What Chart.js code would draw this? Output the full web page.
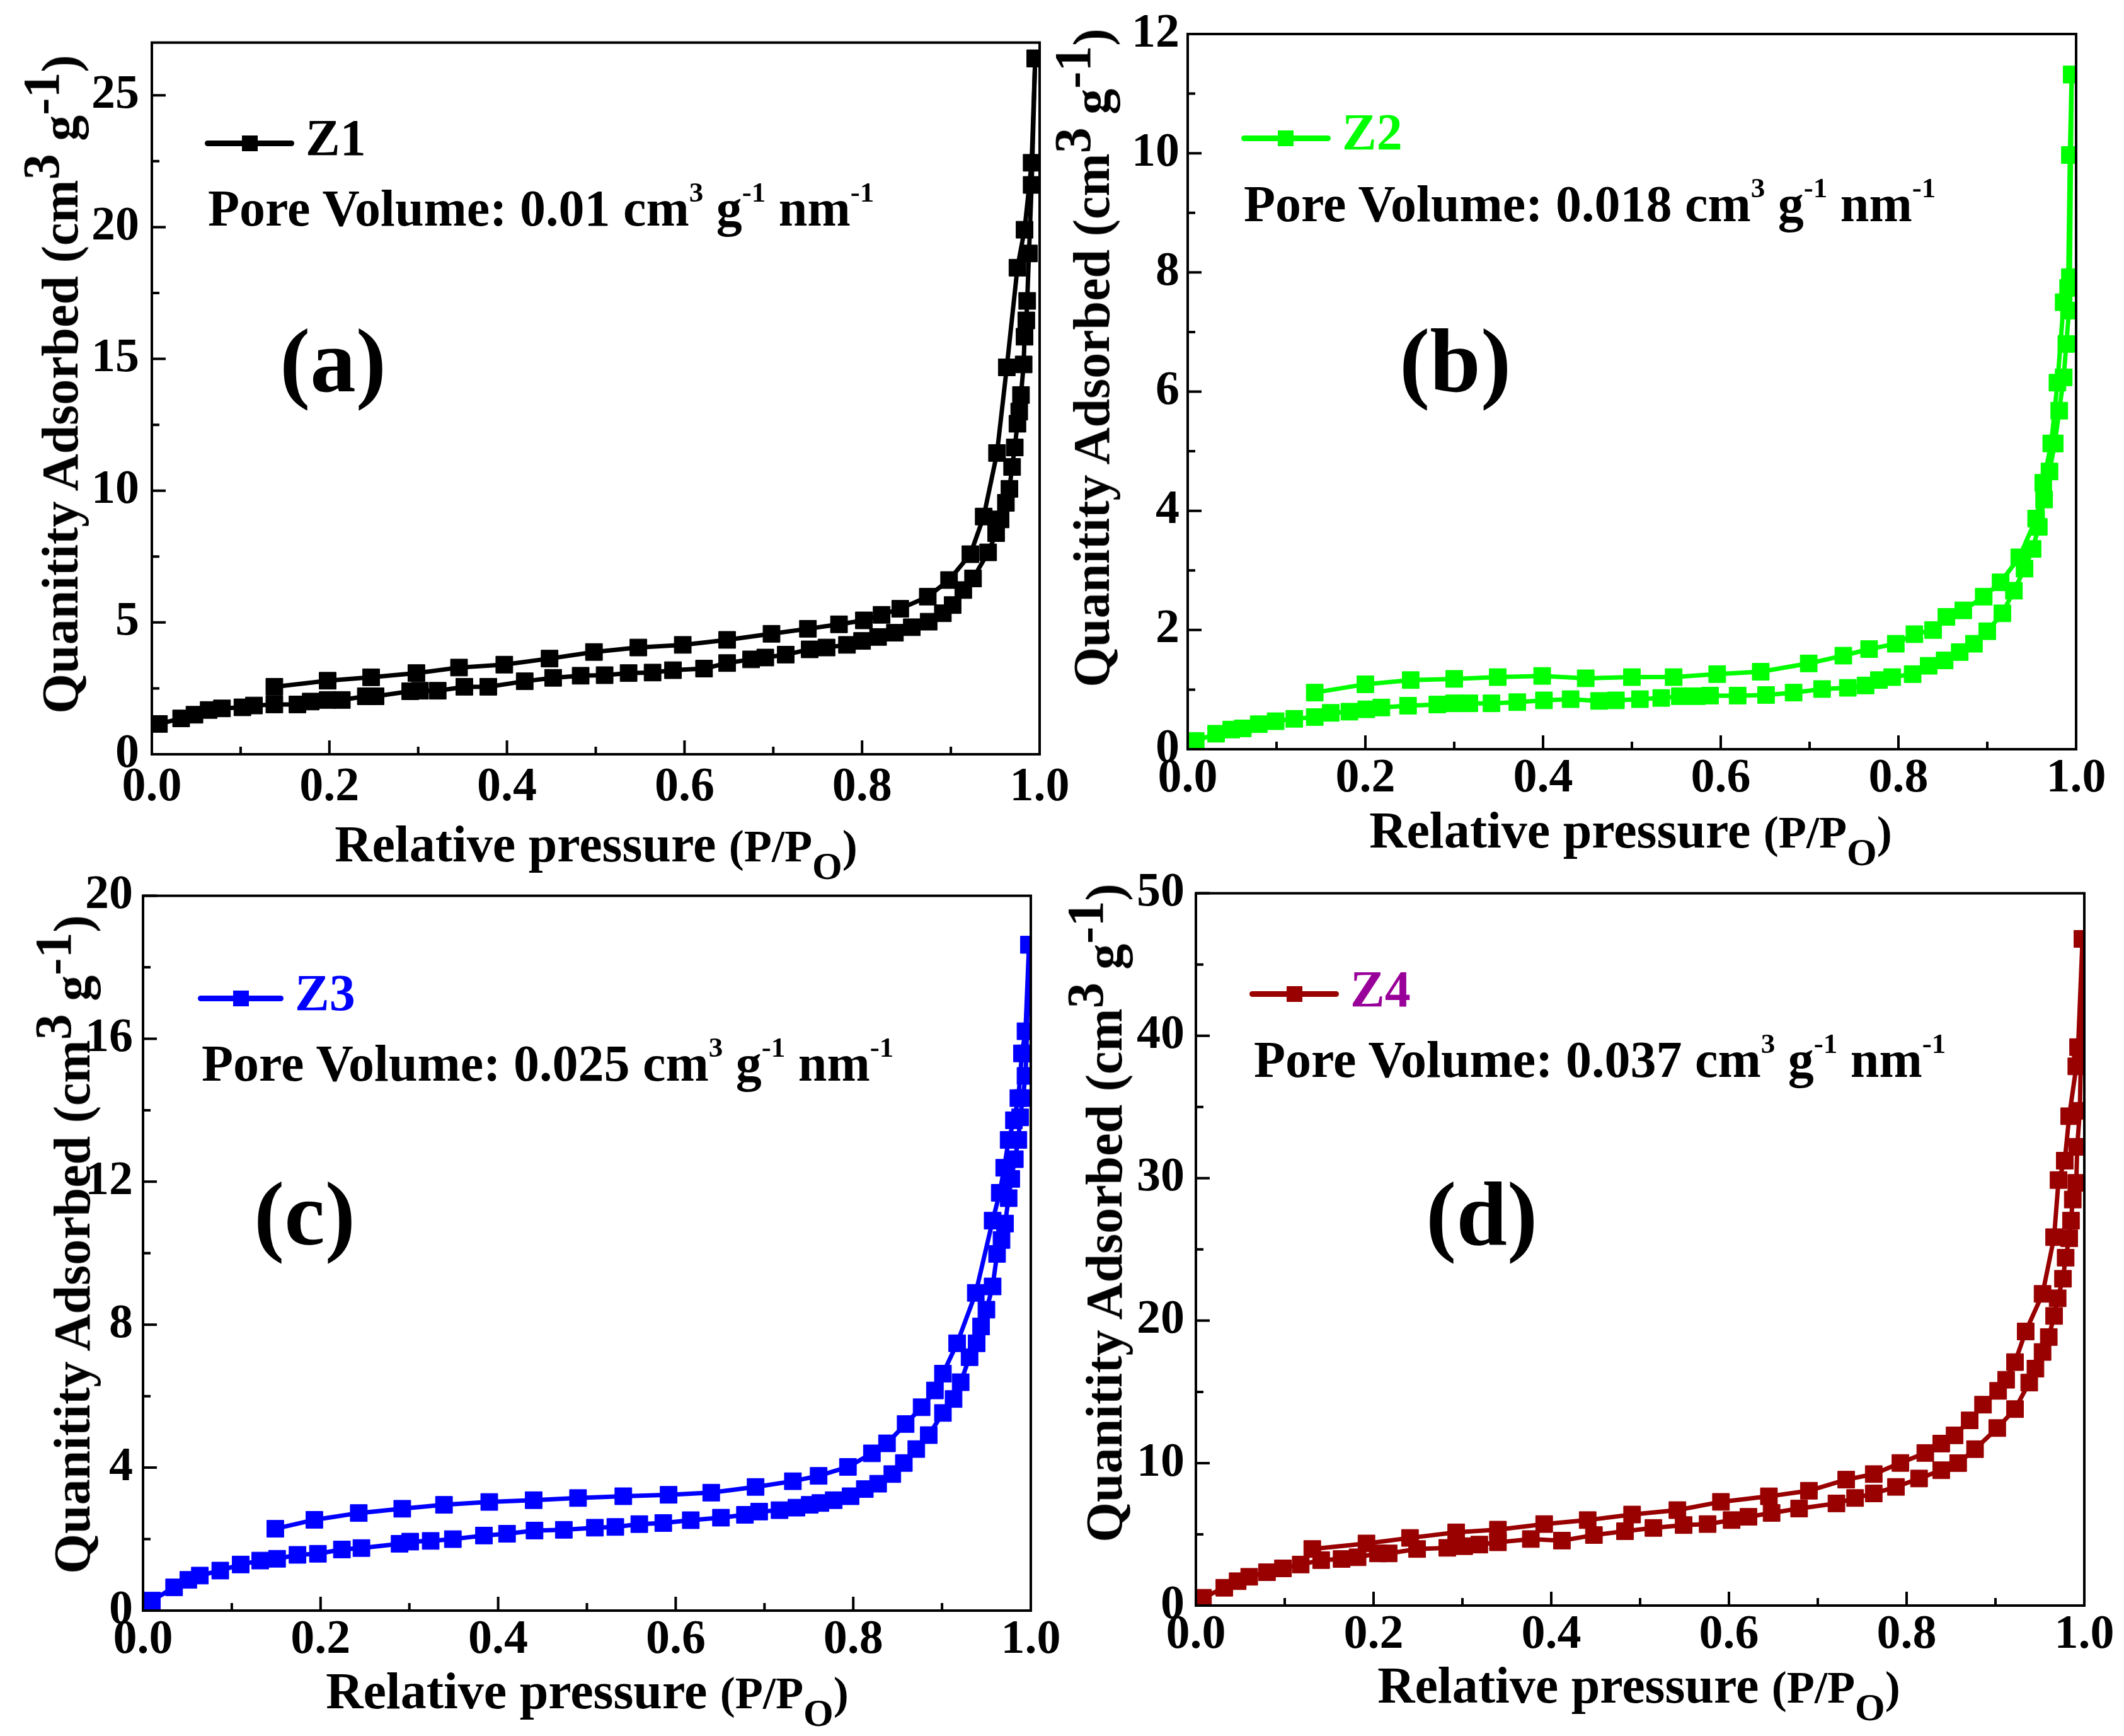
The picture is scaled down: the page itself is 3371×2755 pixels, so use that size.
<!DOCTYPE html>
<html>
<head>
<meta charset="utf-8">
<script src="https://cdn.jsdelivr.net/npm/chart.js@4.4.1/dist/chart.umd.min.js"></script>
<style>
  html, body { margin: 0; padding: 0; background: #fff; }
  body { width: 3371px; height: 2755px; position: relative; overflow: hidden;
         font-family: "Liberation Serif", "Times New Roman", serif; font-weight: bold; }
  .box { position: absolute; }
  .txt { position: absolute; white-space: nowrap; font-size: 82px; line-height: 82px; color: #000; }
  .txt sup { font-size: 0.55em; vertical-align: baseline; position: relative; top: -0.84em; }
  .tag { position: absolute; white-space: nowrap; font-size: 145px; line-height: 145px; color: #000; }
  .xt { transform: translateX(-50%); }
  .xt .pp { font-size: 0.88em; }
  .xt sub { font-size: 0.85em; vertical-align: baseline; position: relative; top: 0.45em; }
  .yt { transform: translate(-50%, -50%) rotate(-90deg); }
  .yt sup { font-size: 1em; top: -0.37em; }
  .lline { position: absolute; height: 9px; border-radius: 4.5px; }
  .lmark { position: absolute; width: 25px; height: 25px; }
</style>
</head>
<body>

<!-- panel texts -->
<div class="lline" style="left:325px;top:223px;width:142px;background:#000"></div>
<div class="lmark" style="left:384px;top:215px;background:#000"></div>
<div class="txt" style="left:485px;top:178px;color:#000">Z1</div>
<div class="txt" style="left:330px;top:290px">Pore Volume: 0.01 cm<sup>3</sup> g<sup>-1</sup> nm<sup>-1</sup></div>
<div class="tag" style="left:444px;top:500px">(a)</div>
<div class="txt xt" style="left:946px;top:1299px">Relative pressure <span class="pp">(P/P<sub>O</sub>)</span></div>
<div class="txt yt" style="left:96px;top:610px">Quanitity Adsorbed (cm<sup>3</sup> g<sup>-1</sup>)</div>

<div class="lline" style="left:1970px;top:215px;width:142px;background:#00ff00"></div>
<div class="lmark" style="left:2028px;top:207px;background:#00ff00"></div>
<div class="txt" style="left:2130px;top:169px;color:#00ff00">Z2</div>
<div class="txt" style="left:1974px;top:283px">Pore Volume: 0.018 cm<sup>3</sup> g<sup>-1</sup> nm<sup>-1</sup></div>
<div class="tag" style="left:2221px;top:500px">(b)</div>
<div class="txt xt" style="left:2588px;top:1277px">Relative pressure <span class="pp">(P/P<sub>O</sub>)</span></div>
<div class="txt yt" style="left:1733px;top:568px">Quanitity Adsorbed (cm<sup>3</sup> g<sup>-1</sup>)</div>

<div class="lline" style="left:314px;top:1580px;width:136px;background:#0000ff"></div>
<div class="lmark" style="left:370px;top:1572px;background:#0000ff"></div>
<div class="txt" style="left:468px;top:1535px;color:#0000ff">Z3</div>
<div class="txt" style="left:320px;top:1647px">Pore Volume: 0.025 cm<sup>3</sup> g<sup>-1</sup> nm<sup>-1</sup></div>
<div class="tag" style="left:403px;top:1854px">(c)</div>
<div class="txt xt" style="left:932px;top:2643px">Relative pressure <span class="pp">(P/P<sub>O</sub>)</span></div>
<div class="txt yt" style="left:115px;top:1975px">Quanitity Adsorbed (cm<sup>3</sup> g<sup>-1</sup>)</div>

<div class="lline" style="left:1983px;top:1573px;width:142px;background:#990000"></div>
<div class="lmark" style="left:2042px;top:1565px;background:#990000"></div>
<div class="txt" style="left:2143px;top:1529px;color:#990099">Z4</div>
<div class="txt" style="left:1990px;top:1641px">Pore Volume: 0.037 cm<sup>3</sup> g<sup>-1</sup> nm<sup>-1</sup></div>
<div class="tag" style="left:2263px;top:1854px">(d)</div>
<div class="txt xt" style="left:2601px;top:2634px">Relative pressure <span class="pp">(P/P<sub>O</sub>)</span></div>
<div class="txt yt" style="left:1753px;top:1925px">Quanitity Adsorbed (cm<sup>3</sup> g<sup>-1</sup>)</div>

<script>
// Relative pressure (P/Po) and quantity adsorbed (cm3 g-1)
var Z1_ADS_P = [0.008, 0.033, 0.048, 0.064, 0.079, 0.102, 0.115, 0.138, 0.164, 0.179, 0.198, 0.214, 0.241, 0.252, 0.291, 0.302, 0.322, 0.352, 0.379, 0.42, 0.452, 0.483, 0.51, 0.537, 0.564, 0.587, 0.622, 0.648, 0.675, 0.691, 0.714, 0.741, 0.76, 0.783, 0.8, 0.818, 0.837, 0.856, 0.875, 0.891, 0.902, 0.914, 0.925, 0.942, 0.951, 0.956, 0.962, 0.966, 0.969, 0.972, 0.975, 0.977, 0.979, 0.982, 0.983, 0.985, 0.986, 0.988, 0.991, 0.995];
var Z1_ADS_Q = [1.15, 1.36, 1.5, 1.68, 1.74, 1.78, 1.85, 1.89, 1.89, 2.0, 2.06, 2.06, 2.2, 2.2, 2.39, 2.41, 2.41, 2.56, 2.56, 2.77, 2.9, 2.98, 3.0, 3.08, 3.1, 3.19, 3.25, 3.46, 3.6, 3.67, 3.78, 3.98, 4.05, 4.15, 4.3, 4.45, 4.61, 4.82, 5.03, 5.35, 5.66, 6.23, 6.67, 7.66, 8.39, 8.91, 9.54, 10.07, 10.9, 11.64, 12.54, 13.0, 13.63, 14.79, 15.84, 16.46, 17.2, 19.0, 21.6, 26.4];
var Z1_DES_P = [0.995, 0.991, 0.983, 0.975, 0.963, 0.952, 0.937, 0.922, 0.898, 0.874, 0.843, 0.822, 0.802, 0.774, 0.739, 0.698, 0.648, 0.598, 0.548, 0.498, 0.448, 0.397, 0.346, 0.298, 0.247, 0.198, 0.138];
var Z1_DES_Q = [26.4, 22.44, 19.9, 18.46, 14.68, 11.43, 9.02, 7.59, 6.61, 5.98, 5.52, 5.29, 5.08, 4.93, 4.76, 4.57, 4.34, 4.15, 4.05, 3.88, 3.63, 3.4, 3.29, 3.08, 2.92, 2.79, 2.56];

var Z2_ADS_P = [0.009, 0.032, 0.049, 0.062, 0.08, 0.099, 0.12, 0.143, 0.161, 0.182, 0.201, 0.218, 0.248, 0.281, 0.3, 0.317, 0.342, 0.371, 0.401, 0.431, 0.463, 0.482, 0.509, 0.533, 0.554, 0.573, 0.588, 0.619, 0.651, 0.682, 0.714, 0.743, 0.763, 0.778, 0.793, 0.816, 0.834, 0.852, 0.869, 0.885, 0.9, 0.917, 0.93, 0.942, 0.951, 0.958, 0.964, 0.97, 0.976, 0.981, 0.986, 0.989, 0.992, 0.993, 0.995];
var Z2_ADS_Q = [0.14, 0.26, 0.33, 0.35, 0.42, 0.47, 0.51, 0.54, 0.61, 0.63, 0.67, 0.7, 0.73, 0.75, 0.77, 0.77, 0.77, 0.79, 0.82, 0.84, 0.81, 0.82, 0.84, 0.86, 0.89, 0.89, 0.9, 0.9, 0.91, 0.95, 1.01, 1.03, 1.07, 1.16, 1.21, 1.26, 1.4, 1.49, 1.63, 1.77, 1.98, 2.28, 2.66, 3.03, 3.36, 3.73, 4.19, 4.66, 5.13, 5.68, 6.24, 6.8, 7.36, 7.92, 11.32];
var Z2_DES_P = [0.995, 0.993, 0.991, 0.986, 0.979, 0.972, 0.963, 0.955, 0.936, 0.915, 0.896, 0.873, 0.854, 0.839, 0.818, 0.797, 0.767, 0.738, 0.699, 0.645, 0.596, 0.547, 0.5, 0.448, 0.399, 0.349, 0.3, 0.251, 0.2, 0.143];
var Z2_DES_Q = [11.32, 9.97, 7.74, 7.5, 6.15, 5.13, 4.47, 3.87, 3.22, 2.8, 2.56, 2.33, 2.22, 2.0, 1.93, 1.77, 1.68, 1.57, 1.44, 1.3, 1.26, 1.21, 1.21, 1.19, 1.23, 1.21, 1.18, 1.16, 1.09, 0.95];

var Z3_ADS_P = [0.01, 0.035, 0.051, 0.064, 0.087, 0.11, 0.132, 0.151, 0.174, 0.197, 0.224, 0.246, 0.289, 0.301, 0.324, 0.349, 0.384, 0.41, 0.441, 0.474, 0.509, 0.532, 0.559, 0.586, 0.617, 0.651, 0.678, 0.694, 0.717, 0.736, 0.751, 0.763, 0.778, 0.797, 0.813, 0.828, 0.844, 0.857, 0.871, 0.885, 0.901, 0.913, 0.921, 0.931, 0.939, 0.944, 0.95, 0.957, 0.962, 0.967, 0.971, 0.975, 0.978, 0.982, 0.986, 0.988, 0.991, 0.994, 0.995, 0.998];
var Z3_ADS_Q = [0.28, 0.65, 0.86, 0.98, 1.12, 1.29, 1.4, 1.45, 1.56, 1.59, 1.71, 1.75, 1.87, 1.93, 1.95, 2.0, 2.1, 2.15, 2.24, 2.26, 2.32, 2.34, 2.42, 2.45, 2.53, 2.6, 2.68, 2.77, 2.81, 2.88, 2.96, 3.01, 3.09, 3.2, 3.4, 3.55, 3.82, 4.13, 4.52, 4.91, 5.53, 5.92, 6.39, 7.09, 7.48, 7.95, 8.42, 9.07, 9.98, 10.37, 10.83, 11.54, 12.08, 12.63, 13.17, 13.8, 14.34, 14.96, 15.59, 18.63];
var Z3_DES_P = [0.998, 0.994, 0.99, 0.986, 0.981, 0.975, 0.97, 0.965, 0.957, 0.938, 0.917, 0.901, 0.892, 0.877, 0.859, 0.838, 0.821, 0.794, 0.761, 0.732, 0.69, 0.64, 0.592, 0.541, 0.49, 0.44, 0.39, 0.339, 0.292, 0.243, 0.193, 0.149];
var Z3_DES_Q = [18.63, 16.21, 15.59, 14.34, 13.72, 13.17, 12.39, 11.69, 10.91, 8.89, 7.48, 6.63, 6.16, 5.69, 5.22, 4.68, 4.4, 4.02, 3.77, 3.62, 3.46, 3.3, 3.24, 3.2, 3.15, 3.09, 3.04, 2.96, 2.85, 2.73, 2.54, 2.29];

var Z4_ADS_P = [0.008, 0.032, 0.047, 0.06, 0.08, 0.098, 0.118, 0.141, 0.164, 0.182, 0.205, 0.217, 0.249, 0.283, 0.302, 0.319, 0.34, 0.377, 0.412, 0.448, 0.483, 0.515, 0.549, 0.576, 0.603, 0.622, 0.648, 0.679, 0.721, 0.742, 0.763, 0.788, 0.814, 0.839, 0.858, 0.877, 0.902, 0.922, 0.938, 0.945, 0.953, 0.96, 0.966, 0.97, 0.976, 0.979, 0.983, 0.985, 0.987, 0.991, 0.992, 0.995, 0.996, 0.998];
var Z4_ADS_Q = [0.55, 1.25, 1.71, 2.02, 2.34, 2.61, 2.88, 3.19, 3.27, 3.39, 3.66, 3.66, 3.97, 4.05, 4.17, 4.28, 4.44, 4.67, 4.56, 4.95, 5.22, 5.45, 5.65, 5.72, 6.0, 6.23, 6.5, 6.81, 7.17, 7.55, 7.87, 8.33, 8.92, 9.5, 10.0, 10.98, 12.46, 13.79, 15.65, 16.63, 17.8, 18.85, 20.33, 21.57, 22.94, 24.42, 25.78, 27.02, 28.5, 29.67, 32.2, 34.73, 38.04, 46.8];
var Z4_DES_P = [0.998, 0.993, 0.991, 0.983, 0.978, 0.971, 0.966, 0.953, 0.934, 0.922, 0.912, 0.903, 0.886, 0.871, 0.854, 0.839, 0.821, 0.793, 0.763, 0.732, 0.69, 0.645, 0.591, 0.542, 0.491, 0.441, 0.392, 0.34, 0.293, 0.241, 0.192, 0.131];
var Z4_DES_Q = [46.8, 39.2, 37.85, 34.35, 31.23, 29.87, 25.86, 21.88, 19.24, 17.09, 15.85, 15.07, 14.1, 13.0, 11.95, 11.37, 10.71, 10.01, 9.23, 8.84, 8.06, 7.67, 7.28, 6.7, 6.39, 6.0, 5.72, 5.33, 5.14, 4.75, 4.36, 3.97];

// tick values
var X_TICKS = [0, 0.2, 0.4, 0.6, 0.8, 1.0];
var X_MINOR = [0.1, 0.3, 0.5, 0.7, 0.9];
var Y_TICKS_A = [0, 5, 10, 15, 20, 25];
var Y_MINOR_A = [2.5, 7.5, 12.5, 17.5, 22.5];
var Y_TICKS_B = [0, 2, 4, 6, 8, 10, 12];
var Y_MINOR_B = [1, 3, 5, 7, 9, 11];
var Y_TICKS_C = [0, 4, 8, 12, 16, 20];
var Y_MINOR_C = [2, 6, 10, 14, 18];
var Y_TICKS_D = [0, 10, 20, 30, 40, 50];
var Y_MINOR_D = [5, 15, 25, 35, 45];

var TICK_FONT = { family: '"Liberation Serif", "Times New Roman", serif', size: 76, weight: 'bold' };

// frame round the plot area plus inward major/minor ticks on the bottom and left edges
var framePlugin = {
  id: 'frame',
  afterDraw: function (chart, args, opts) {
    var ctx = chart.ctx;
    var a = chart.chartArea;
    var sx = chart.scales.x, sy = chart.scales.y;
    ctx.save();
    ctx.strokeStyle = '#000';
    ctx.lineWidth = 4;
    ctx.beginPath();
    X_TICKS.forEach(function (v) {
      var px = sx.getPixelForValue(v);
      ctx.moveTo(px, a.bottom); ctx.lineTo(px, a.bottom - 22);
    });
    X_MINOR.forEach(function (v) {
      var px = sx.getPixelForValue(v);
      ctx.moveTo(px, a.bottom); ctx.lineTo(px, a.bottom - 12);
    });
    opts.yMajor.forEach(function (v) {
      var py = sy.getPixelForValue(v);
      ctx.moveTo(a.left, py); ctx.lineTo(a.left + 22, py);
    });
    opts.yMinor.forEach(function (v) {
      var py = sy.getPixelForValue(v);
      ctx.moveTo(a.left, py); ctx.lineTo(a.left + 12, py);
    });
    ctx.stroke();
    ctx.strokeRect(a.left, a.top, a.right - a.left, a.bottom - a.top);
    ctx.restore();
  }
};

function pairs(px, qy) {
  return px.map(function (v, i) { return { x: v, y: qy[i] }; });
}

function branch(label, px, qy, color) {
  return {
    label: label,
    data: pairs(px, qy),
    borderColor: color,
    backgroundColor: color,
    borderWidth: 7,
    tension: 0,
    pointStyle: 'rect',
    pointRadius: 19,
    pointBorderWidth: 1,
    pointBorderColor: color,
    pointBackgroundColor: color
  };
}

/**
 * One isotherm panel; the plot area is pinned to the given page box.
 */
function createIsotherm(p) {
  var yw = 170, padTop = 60, padRight = 60, xh = 120;
  var w = p.right - p.left + yw + padRight;
  var h = padTop + p.bottom - p.top + xh;
  var box = document.createElement('div');
  box.className = 'box';
  box.style.left = (p.left - yw) + 'px';
  box.style.top = (p.top - padTop) + 'px';
  var canvas = document.createElement('canvas');
  canvas.width = w; canvas.height = h;
  canvas.style.width = w + 'px'; canvas.style.height = h + 'px';
  box.appendChild(canvas);
  document.body.insertBefore(box, document.body.firstChild);

  return new Chart(canvas, {
    type: 'line',
    data: {
      datasets: [
        branch(p.name + ' adsorption', p.adsP, p.adsQ, p.color),
        branch(p.name + ' desorption', p.desP, p.desQ, p.color)
      ]
    },
    options: {
      responsive: false,
      animation: false,
      devicePixelRatio: 1,
      events: [],
      layout: { padding: { top: padTop, right: padRight, left: 0, bottom: 0 } },
      plugins: {
        legend: { display: false },
        tooltip: { enabled: false },
        frame: { yMajor: p.yTicks, yMinor: p.yMinor }
      },
      scales: {
        x: {
          type: 'linear', min: 0, max: 1,
          grid: { display: false, drawTicks: false },
          border: { display: false },
          afterFit: function (s) { s.height = xh; },
          afterBuildTicks: function (s) { s.ticks = X_TICKS.map(function (v) { return { value: v }; }); },
          ticks: {
            font: TICK_FONT, color: '#000', padding: p.xPad, maxRotation: 0, autoSkip: false,
            callback: function (v) { return Number(v).toFixed(1); }
          }
        },
        y: {
          type: 'linear', min: 0, max: p.yMax,
          grid: { display: false, drawTicks: false },
          border: { display: false },
          afterFit: function (s) { s.width = yw; },
          afterBuildTicks: function (s) { s.ticks = p.yTicks.map(function (v) { return { value: v }; }); },
          ticks: { font: TICK_FONT, color: '#000', padding: p.yPad, autoSkip: false }
        }
      }
    },
    plugins: [framePlugin]
  });
}

createIsotherm({ name: 'Z1', color: '#000000', adsP: Z1_ADS_P, adsQ: Z1_ADS_Q, desP: Z1_DES_P, desQ: Z1_DES_Q,
  yMax: 27, yTicks: Y_TICKS_A, yMinor: Y_MINOR_A, left: 241, top: 62, right: 1650, bottom: 1197, yPad: 20, xPad: 8 });
createIsotherm({ name: 'Z2', color: '#00ff00', adsP: Z2_ADS_P, adsQ: Z2_ADS_Q, desP: Z2_DES_P, desQ: Z2_DES_Q,
  yMax: 12, yTicks: Y_TICKS_B, yMinor: Y_MINOR_B, left: 1885, top: 54, right: 3295, bottom: 1189, yPad: 13, xPad: 2 });
createIsotherm({ name: 'Z3', color: '#0000ff', adsP: Z3_ADS_P, adsQ: Z3_ADS_Q, desP: Z3_DES_P, desQ: Z3_DES_Q,
  yMax: 20, yTicks: Y_TICKS_C, yMinor: Y_MINOR_C, left: 227, top: 1420, right: 1636, bottom: 2556, yPad: 16, xPad: 2 });
createIsotherm({ name: 'Z4', color: '#990000', adsP: Z4_ADS_P, adsQ: Z4_ADS_Q, desP: Z4_DES_P, desQ: Z4_DES_Q,
  yMax: 50, yTicks: Y_TICKS_D, yMinor: Y_MINOR_D, left: 1898, top: 1414, right: 3308, bottom: 2548, yPad: 18, xPad: 2 });
</script>
</body>
</html>
